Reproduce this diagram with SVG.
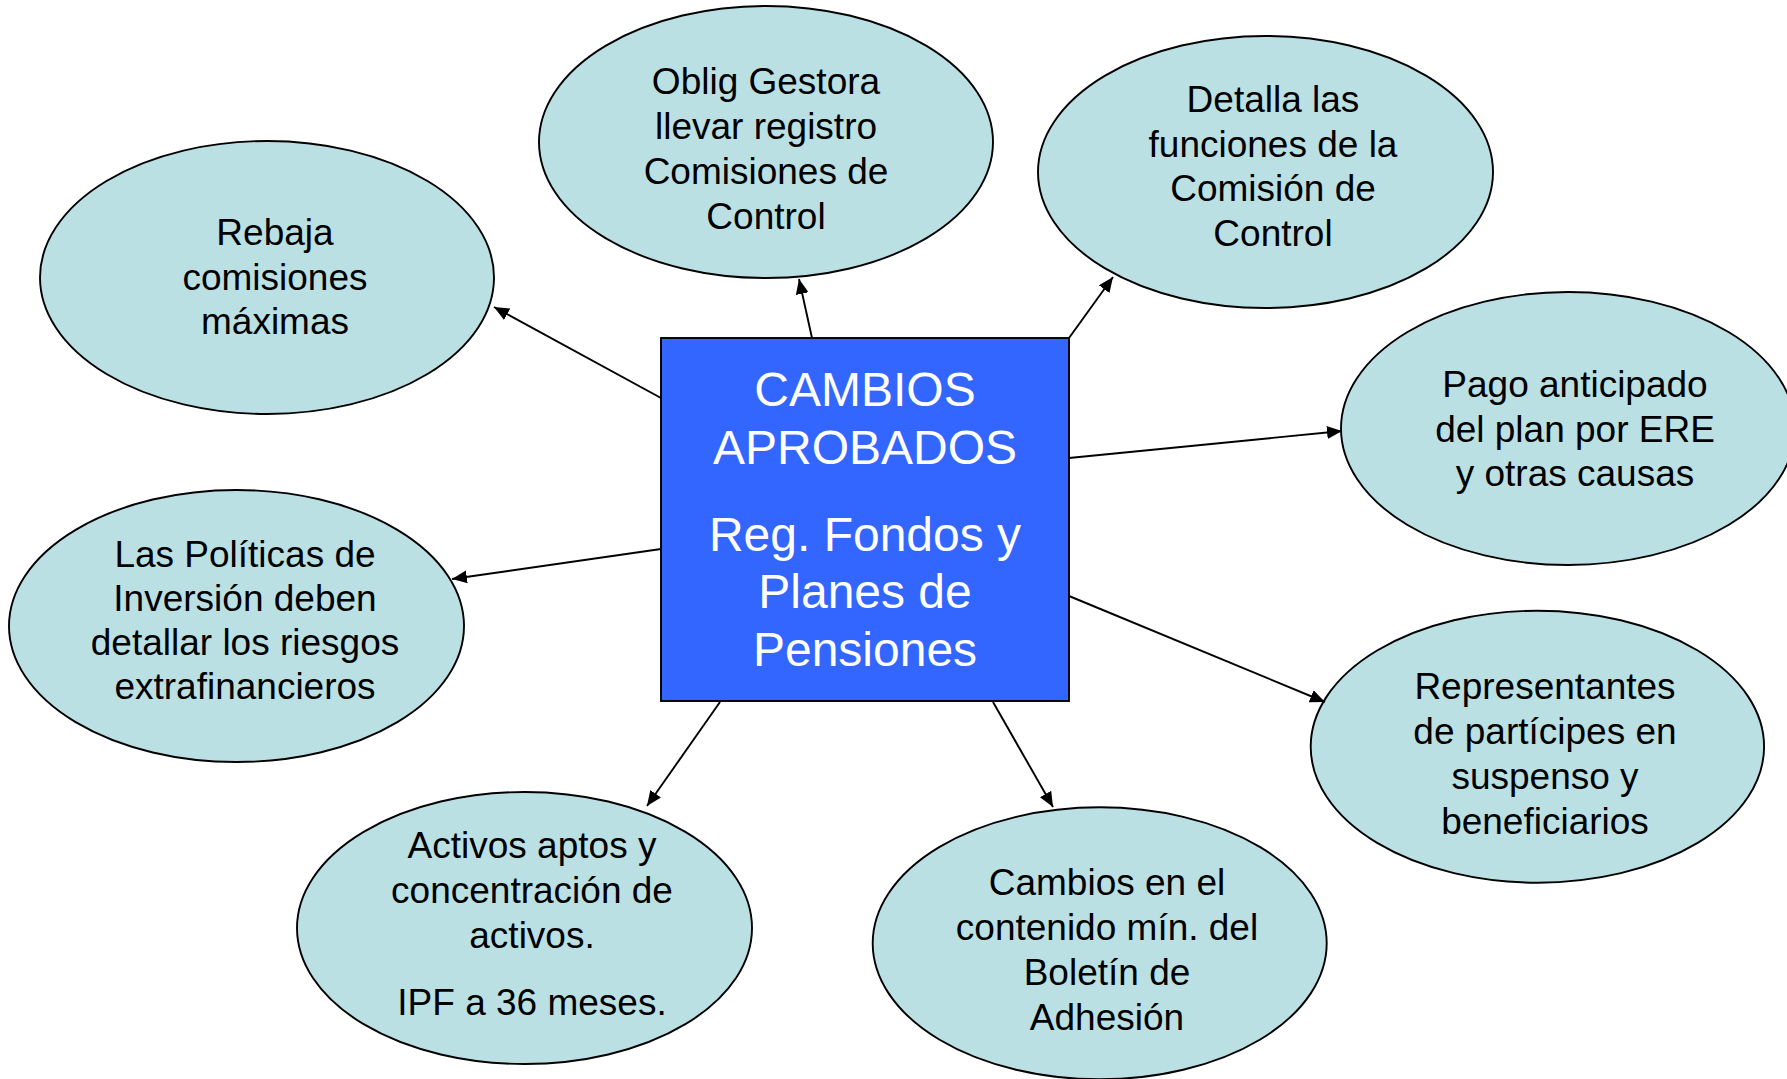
<svg xmlns="http://www.w3.org/2000/svg" width="1787" height="1079" viewBox="0 0 1787 1079">
<style>
.bg{fill:#ffffff}
.ell{fill:#BBE0E3;stroke:#000000;stroke-width:1.9}
.box{fill:#3366FF;stroke:#000000;stroke-width:1.9}
.t{font-family:"Liberation Sans",Arial,sans-serif;font-size:37px;fill:#000000;text-anchor:middle}
.bt{font-family:"Liberation Sans",Arial,sans-serif;font-size:48px;fill:#ffffff;text-anchor:middle}
.con{stroke:#000000;stroke-width:1.9;fill:none;marker-end:url(#arr)}
</style>
<defs>
<marker id="arr" markerUnits="userSpaceOnUse" markerWidth="16" markerHeight="13" refX="15" refY="6.5" orient="auto">
<path d="M0,0 L15,6.5 L0,13 z" fill="#000000"/>
</marker>
</defs>
<rect class="bg" x="0" y="0" width="1787" height="1079"/>
<g id="node-rebaja">
<ellipse class="ell" cx="267" cy="277.5" rx="227" ry="136.5"/>
<text class="t" x="275" y="245">Rebaja</text>
<text class="t" x="275" y="289.5">comisiones</text>
<text class="t" x="275" y="334">máximas</text>
</g>
<g id="node-oblig">
<ellipse class="ell" cx="766" cy="142" rx="227" ry="136"/>
<text class="t" x="766" y="94.3">Oblig Gestora</text>
<text class="t" x="766" y="139.3">llevar registro</text>
<text class="t" x="766" y="184.3">Comisiones de</text>
<text class="t" x="766" y="228.7">Control</text>
</g>
<g id="node-detalla">
<ellipse class="ell" cx="1265.5" cy="172" rx="227.5" ry="136"/>
<text class="t" x="1273" y="112.3">Detalla las</text>
<text class="t" x="1273" y="156.7">funciones de la</text>
<text class="t" x="1273" y="201">Comisión de</text>
<text class="t" x="1273" y="245.7">Control</text>
</g>
<g id="node-pago">
<ellipse class="ell" cx="1568" cy="428.5" rx="227" ry="136.5"/>
<text class="t" x="1575" y="396.7">Pago anticipado</text>
<text class="t" x="1575" y="441.7">del plan por ERE</text>
<text class="t" x="1575" y="485.7">y otras causas</text>
</g>
<g id="node-politicas">
<ellipse class="ell" cx="236.5" cy="626" rx="227.5" ry="136"/>
<text class="t" x="245" y="566.5">Las Políticas de</text>
<text class="t" x="245" y="611">Inversión deben</text>
<text class="t" x="245" y="655">detallar los riesgos</text>
<text class="t" x="245" y="699">extrafinancieros</text>
</g>
<g id="node-activos">
<ellipse class="ell" cx="524.5" cy="928" rx="227.5" ry="136"/>
<text class="t" x="532" y="858.3">Activos aptos y</text>
<text class="t" x="532" y="903.3">concentración de</text>
<text class="t" x="532" y="948.3">activos.</text>
<text class="t" x="532" y="1015">IPF a 36 meses.</text>
</g>
<g id="node-cambios">
<ellipse class="ell" cx="1099.7" cy="943.3" rx="227" ry="136"/>
<text class="t" x="1107" y="895">Cambios en el</text>
<text class="t" x="1107" y="940">contenido mín. del</text>
<text class="t" x="1107" y="985">Boletín de</text>
<text class="t" x="1107" y="1030">Adhesión</text>
</g>
<g id="node-representantes">
<ellipse class="ell" cx="1537.4" cy="746.7" rx="226.7" ry="136"/>
<text class="t" x="1545" y="699.3">Representantes</text>
<text class="t" x="1545" y="744.3">de partícipes en</text>
<text class="t" x="1545" y="789.3">suspenso y</text>
<text class="t" x="1545" y="834">beneficiarios</text>
</g>
<g id="node-center">
<rect class="box" x="661" y="338" width="408" height="363"/>
<text class="bt" x="865" y="406">CAMBIOS</text>
<text class="bt" x="865" y="464">APROBADOS</text>
<text class="bt" x="865" y="551">Reg. Fondos y</text>
<text class="bt" x="865" y="607.5">Planes de</text>
<text class="bt" x="865" y="665.5">Pensiones</text>
</g>
<g id="connectors">
<line class="con" x1="661" y1="398" x2="494" y2="307"/>
<line class="con" x1="812" y1="338" x2="799" y2="279"/>
<line class="con" x1="1069" y1="338" x2="1113" y2="277"/>
<line class="con" x1="1069" y1="458" x2="1342" y2="431"/>
<line class="con" x1="1069" y1="596" x2="1325" y2="702"/>
<line class="con" x1="993" y1="702" x2="1053" y2="807"/>
<line class="con" x1="720" y1="702" x2="647" y2="806"/>
<line class="con" x1="661" y1="549" x2="452" y2="579"/>
</g>
</svg>
